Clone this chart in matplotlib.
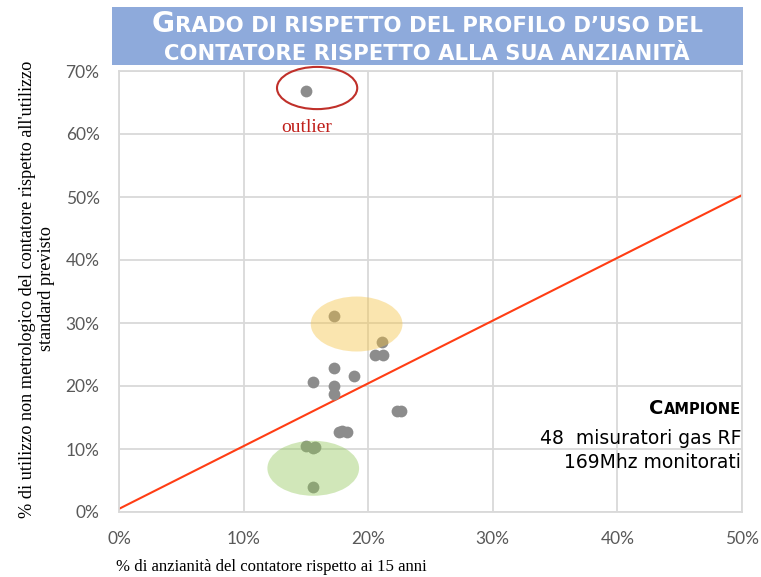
import matplotlib
matplotlib.use("Agg")
import matplotlib.pyplot as plt
from matplotlib.patches import Ellipse, Rectangle
from matplotlib.transforms import IdentityTransform
from matplotlib.ticker import FuncFormatter

# ---------------- data ----------------
anzianita = [0.1498, 0.1726, 0.2113, 0.2055, 0.2116, 0.1726, 0.1886, 0.1559, 0.1726,
             0.1726, 0.2230, 0.2262, 0.1763, 0.1790, 0.1832, 0.1498, 0.1559, 0.1570, 0.1559]
utilizzo = [0.669, 0.3116, 0.2698, 0.2497, 0.2497, 0.2281, 0.2164, 0.2059, 0.2005,
            0.1868, 0.1605, 0.1605, 0.1274, 0.1280, 0.1274, 0.1048, 0.1011, 0.1030, 0.0402]
trend_x = [0.0, 0.5]
trend_y = [0.005, 0.503]
x_ticks = [0.0, 0.1, 0.2, 0.3, 0.4, 0.5]
y_ticks = [0.0, 0.1, 0.2, 0.3, 0.4, 0.5, 0.6, 0.7]
# highlight ellipses: (center x, center y, width, height)
yellow_zone = (0.1907, 0.2984, 0.0736, 0.0873)
green_zone = (0.1559, 0.0694, 0.0736, 0.0873)
outlier_zone = (0.1590, 0.6730, 0.0644, 0.0670)

title_line1 = [("G", "big"), ("RADO DI RISPETTO DEL PROFILO D\u2019USO DEL", "small")]
title_line2 = [("CONTATORE RISPETTO ALLA SUA ANZIANIT\u00c0", "small")]
ylabel = "% di utilizzo non metrologico del contatore rispetto all'utilizzo\nstandard previsto"
xlabel = "% di anzianit\u00e0 del contatore rispetto ai 15 anni"
campione = [("C", "big"), ("AMPIONE", "small")]
note_lines = ["48  misuratori gas RF", "169Mhz monitorati"]

# ---------------- figure ----------------
W, H = 761, 577
fig = plt.figure(figsize=(W / 100, H / 100), dpi=100)
ax = fig.add_axes([119 / W, 1 - 512 / H, 623 / W, 441 / H])
ax.set_xlim(0, 0.5)
ax.set_ylim(0, 0.7)
ax.set_xticks(x_ticks)
ax.set_yticks(y_ticks)
pct = FuncFormatter(lambda v, p: f"{v * 100:.0f}%")
ax.xaxis.set_major_formatter(pct)
ax.yaxis.set_major_formatter(pct)
ax.tick_params(length=0, labelsize=12.5, labelcolor="#595959", pad=14)
for lab in ax.get_xticklabels() + ax.get_yticklabels():
    lab.set_fontfamily("Lato")
ax.grid(True, color="#D9D9D9", lw=1.3)
ax.set_axisbelow(True)
for sp in ax.spines.values():
    sp.set_color("#D9D9D9")
    sp.set_linewidth(1.3)

ax.plot(trend_x, trend_y, color="#FF3D14", lw=1.5, zorder=2)
ax.scatter(anzianita, utilizzo, s=72, color="#8C8C8C", zorder=3, linewidths=0)

cx, cy, w, h = yellow_zone
ax.add_patch(Ellipse((cx, cy), w, h, facecolor="#F5C242", alpha=0.42, lw=0, zorder=4))
cx, cy, w, h = green_zone
ax.add_patch(Ellipse((cx, cy), w, h, facecolor="#92C85A", alpha=0.42, lw=0, zorder=4))
cx, cy, w, h = outlier_zone
ax.add_patch(Ellipse((cx, cy), w, h, facecolor="none", edgecolor="#C0302A", lw=1.5,
                     zorder=5, clip_on=False))
ax.text(0.1504, 0.603, "outlier", color="#C0201B", fontsize=14, ha="center",
        va="baseline", fontfamily="Liberation Serif", zorder=6)

renderer = fig.canvas.get_renderer()
ident = IdentityTransform()


def fit_text(t, target):
    wd = t.get_window_extent(renderer=renderer)
    span = max(wd.width, wd.height) if t.get_rotation() else wd.width
    t.set_fontsize(t.get_fontsize() * target / span)


# axis labels
yl = fig.text(37 / W, 1 - 289 / H, ylabel, rotation=90, ha="center", va="center",
              multialignment="center", fontsize=12, fontfamily="Liberation Serif",
              color="#000000", linespacing=1.12)
fit_text(yl, 458)
xl = fig.text(116 / W, 1 - 567 / H, xlabel, ha="left", va="center", fontsize=11,
              fontfamily="Liberation Serif", color="#000000")
fit_text(xl, 312)

# title banner
fig.add_artist(Rectangle((112 / W, 1 - 65 / H), 631 / W, 58 / H, transform=fig.transFigure,
                         facecolor="#8EAADB", edgecolor="none", zorder=10))


def draw_pieces(pieces, sizes, x, y, ha, target=None, **kw):
    texts = []
    for s, kind in pieces:
        t = fig.text(0, 0, s, fontsize=sizes[kind], transform=ident, va="baseline",
                     ha="left", **kw)
        texts.append(t)
    def widths():
        return [t.get_window_extent(renderer=renderer).width for t in texts]
    if target is not None:
        f = target / sum(widths())
        for t, (s, kind) in zip(texts, pieces):
            t.set_fontsize(sizes[kind] * f)
    ws = widths()
    total = sum(ws)
    start = x - total / 2 if ha == "center" else x - total
    for t, wd in zip(texts, ws):
        t.set_position((start, y))
        start += wd


tkw = dict(color="white", fontweight="bold", fontfamily="DejaVu Sans", zorder=11)
draw_pieces(title_line1, {"big": 20, "small": 15}, 427, H - 32, "center", target=548, **tkw)
draw_pieces(title_line2, {"big": 20, "small": 15}, 427, H - 60, "center", target=522, **tkw)

draw_pieces(campione, {"big": 14, "small": 10.5}, 741, H - 414, "right",
            color="black", fontweight="bold", fontfamily="DejaVu Sans", zorder=11)
fig.text(741, H - 444, note_lines[0], transform=ident, ha="right", va="baseline",
         fontsize=13.5, fontfamily="DejaVu Sans", color="black")
fig.text(741, H - 468, note_lines[1], transform=ident, ha="right", va="baseline",
         fontsize=13.5, fontfamily="DejaVu Sans", color="black")

fig.savefig("out.png", dpi=100)
